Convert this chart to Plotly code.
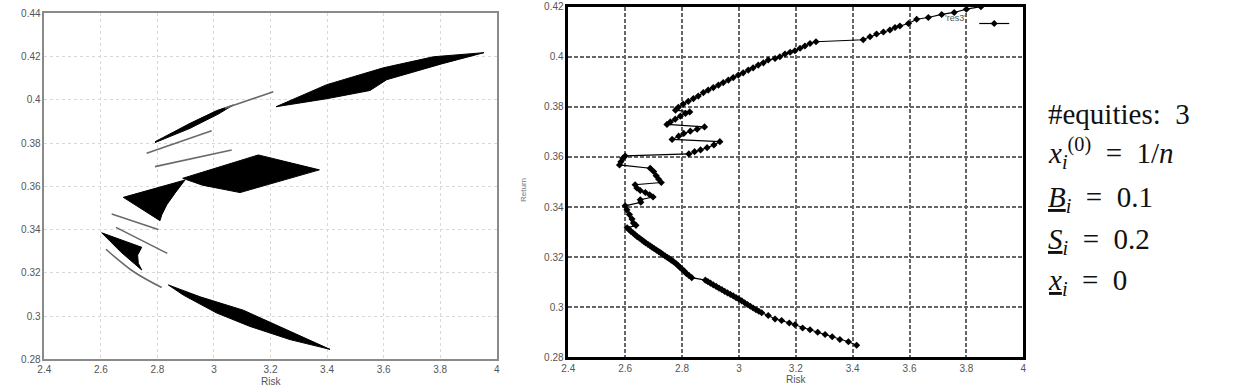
import plotly.graph_objects as go

W, H = 1248, 389

# ---------------- Left chart: regions (filled) and thin curves ----------------
reg_top_right_x = [3.2195, 3.399, 3.599, 3.776, 3.955, 3.805, 3.611, 3.552, 3.399, 3.2195]
reg_top_right_y = [0.3968, 0.4070, 0.4148, 0.4199, 0.4218, 0.4166, 0.4093, 0.4043, 0.4005, 0.3968]

reg_bottom_x = [2.8386, 2.951, 3.104, 3.269, 3.4104, 3.269, 3.1275, 3.0097, 2.8916, 2.8386]
reg_bottom_y = [0.3144, 0.3089, 0.3027, 0.2930, 0.2846, 0.2891, 0.2952, 0.3014, 0.3097, 0.3144]

reg_diamond_x = [2.8894, 3.157, 3.3729, 3.0922, 2.96, 2.8894]
reg_diamond_y = [0.3637, 0.3745, 0.3676, 0.3571, 0.3605, 0.3637]

reg_triangle_x = [2.6794, 2.8976, 2.8622, 2.8329, 2.8152, 2.8092, 2.6794]
reg_triangle_y = [0.3549, 0.3629, 0.3568, 0.3514, 0.3467, 0.3441, 0.3549]

reg_small_x = [2.603, 2.7445, 2.730, 2.7325, 2.7445, 2.67, 2.603]
reg_small_y = [0.3385, 0.3318, 0.3282, 0.3244, 0.3213, 0.3297, 0.3385]

reg_sliver_x = [2.7915, 2.9153, 3.0097, 3.0684, 3.0154, 2.9153, 2.7915]
reg_sliver_y = [0.3806, 0.3891, 0.3950, 0.3976, 0.3934, 0.3868, 0.3802]

curve_a_x = [3.039, 3.21]
curve_a_y = [0.3961, 0.4037]
curve_b_x = [2.762, 2.992]
curve_b_y = [0.3753, 0.3857]
curve_c_x = [2.7915, 3.0627]
curve_c_y = [0.3691, 0.3768]
curve_d_x = [2.6384, 2.8032]
curve_d_y = [0.3472, 0.3400]
curve_e_x = [2.6536, 2.835]
curve_e_y = [0.3410, 0.3290]
curve_f_x = [2.618, 2.7149, 2.8151]
curve_f_y = [0.3309, 0.3206, 0.3132]

# ---------------- Right chart: 'res3' series ----------------
res3_risk = [
    3.851, 3.800, 3.757, 3.713, 3.666, 3.625, 3.596, 3.566, 3.549, 3.531, 3.508, 3.484, 3.461, 3.437,
    3.271, 3.250, 3.232, 3.215, 3.197, 3.180, 3.162, 3.144, 3.127, 3.103, 3.086, 3.068, 3.050, 3.033,
    3.015, 2.998, 2.980, 2.963, 2.945, 2.928, 2.910, 2.892, 2.875, 2.857, 2.840, 2.822, 2.804, 2.787, 2.777,
    2.827, 2.812, 2.794, 2.776, 2.759, 2.747,
    2.879, 2.853, 2.829, 2.806, 2.788, 2.765,
    2.933, 2.912, 2.888, 2.865, 2.844, 2.824,
    2.600, 2.592, 2.585, 2.580,
    2.688, 2.700, 2.709, 2.718, 2.727,
    2.635, 2.641, 2.653, 2.671, 2.686, 2.698,
    2.653, 2.655, 2.600,
    2.606, 2.615, 2.624, 2.629, 2.638,
    2.607, 2.614, 2.620, 2.628, 2.635, 2.642, 2.650, 2.658, 2.665, 2.672, 2.680, 2.688, 2.695, 2.702,
    2.710, 2.718, 2.725, 2.732, 2.740, 2.748, 2.755, 2.762, 2.770, 2.778, 2.785, 2.792, 2.800, 2.808,
    2.815, 2.824, 2.834,
    2.882, 2.891, 2.900, 2.910, 2.920, 2.930, 2.940, 2.950, 2.960, 2.970, 2.980, 2.990, 3.000, 3.010,
    3.020, 3.030, 3.040, 3.050, 3.060, 3.070, 3.080, 3.103, 3.127, 3.150,
    3.177, 3.197, 3.224, 3.250, 3.277, 3.303, 3.328, 3.355, 3.385, 3.414,
]
res3_return = [
    0.4200, 0.4190, 0.4177, 0.4169, 0.4157, 0.4150, 0.4133, 0.4123, 0.4117, 0.4107, 0.4099, 0.4091, 0.4080, 0.4068,
    0.4060, 0.4053, 0.4043, 0.4034, 0.4024, 0.4018, 0.4011, 0.4000, 0.3993, 0.3987, 0.3976, 0.3967, 0.3956, 0.3947,
    0.3936, 0.3927, 0.3917, 0.3907, 0.3897, 0.3887, 0.3877, 0.3867, 0.3857, 0.3843, 0.3833, 0.3822, 0.3811, 0.3798, 0.3787,
    0.3780, 0.3774, 0.3763, 0.3751, 0.3740, 0.3730,
    0.3720, 0.3711, 0.3703, 0.3694, 0.3683, 0.3670,
    0.3661, 0.3648, 0.3637, 0.3628, 0.3621, 0.3612,
    0.3604, 0.3595, 0.3581, 0.3568,
    0.3555, 0.3542, 0.3525, 0.3511, 0.3498,
    0.3489, 0.3476, 0.3466, 0.3458, 0.3449, 0.3440,
    0.3429, 0.3419, 0.3405,
    0.3389, 0.3370, 0.3352, 0.3336, 0.3327,
    0.3317, 0.3310, 0.3303, 0.3296, 0.3289, 0.3282, 0.3276, 0.3269, 0.3263, 0.3257, 0.3251, 0.3245, 0.3239, 0.3234,
    0.3228, 0.3222, 0.3217, 0.3211, 0.3205, 0.3199, 0.3194, 0.3188, 0.3182, 0.3175, 0.3168, 0.3160, 0.3152, 0.3144,
    0.3135, 0.3127, 0.3118,
    0.3108, 0.3102, 0.3096, 0.3089, 0.3083, 0.3076, 0.3070, 0.3063, 0.3057, 0.3051, 0.3045, 0.3038, 0.3032, 0.3025,
    0.3018, 0.3011, 0.3004, 0.2997, 0.2990, 0.2984, 0.2978, 0.2967, 0.2953, 0.2947,
    0.2937, 0.2930, 0.2917, 0.2910, 0.2900, 0.2891, 0.2882, 0.2871, 0.2862, 0.2848,
]

x_ticks = [2.4, 2.6, 2.8, 3.0, 3.2, 3.4, 3.6, 3.8, 4.0]
x_tick_text = ["2.4", "2.6", "2.8", "3", "3.2", "3.4", "3.6", "3.8", "4"]
left_y_ticks = [0.28, 0.30, 0.32, 0.34, 0.36, 0.38, 0.40, 0.42, 0.44]
left_y_text = ["0.28", "0.3", "0.32", "0.34", "0.36", "0.38", "0.4", "0.42", "0.44"]
right_y_ticks = [0.28, 0.30, 0.32, 0.34, 0.36, 0.38, 0.40, 0.42]
right_y_text = ["0.28", "0.3", "0.32", "0.34", "0.36", "0.38", "0.4", "0.42"]

x_label = "Risk"
y_label = "Return"
legend_label = "'res3'"
info_lines = [
    "#equities:  3",
    "<i>x</i><sub><i>i</i></sub><sup>(0)</sup>  =  1/<i>n</i>",
    "<u><i>B</i></u><sub><i>i</i></sub>  =  0.1",
    "<u><i>S</i></u><sub><i>i</i></sub>  =  0.2",
    "<u><i>x</i></u><sub><i>i</i></sub>  =  0",
]
info_y_px = [114, 153, 199, 241, 282]

fig = go.Figure()

regions = [
    (reg_top_right_x, reg_top_right_y),
    (reg_bottom_x, reg_bottom_y),
    (reg_diamond_x, reg_diamond_y),
    (reg_triangle_x, reg_triangle_y),
    (reg_small_x, reg_small_y),
    (reg_sliver_x, reg_sliver_y),
]
for rx, ry in regions:
    fig.add_trace(go.Scatter(x=rx, y=ry, mode="lines", fill="toself", fillcolor="black",
                             line=dict(color="black", width=1), showlegend=False,
                             xaxis="x", yaxis="y", hoverinfo="skip"))

curves = [(curve_a_x, curve_a_y), (curve_b_x, curve_b_y), (curve_c_x, curve_c_y),
          (curve_d_x, curve_d_y), (curve_e_x, curve_e_y), (curve_f_x, curve_f_y)]
for cx, cy in curves:
    fig.add_trace(go.Scatter(x=cx, y=cy, mode="lines", line=dict(color="#6a6a6a", width=1.6, shape="spline"),
                             showlegend=False, xaxis="x", yaxis="y", hoverinfo="skip"))

fig.add_trace(go.Scatter(x=res3_risk, y=res3_return, mode="lines+markers", name=" ",
                         line=dict(color="black", width=1.2),
                         marker=dict(symbol="diamond", size=5.5, color="black"),
                         xaxis="x2", yaxis="y2", showlegend=True))

tick_font = dict(family="Liberation Sans, Arial", size=10, color="#555")
ax_common = dict(range=[2.4, 4.0], tickvals=x_ticks, ticktext=x_tick_text, showline=True, mirror=True,
                 zeroline=False, tickfont=tick_font, ticks="", automargin=False)

fig.update_layout(
    width=W, height=H,
    margin=dict(l=0, r=0, t=0, b=0),
    paper_bgcolor="white", plot_bgcolor="white",
    xaxis=dict(domain=[44.3 / W, 496.7 / W], anchor="y", linecolor="#8a8a8a", linewidth=1.5,
               gridcolor="#d8d8d8", griddash="dot", gridwidth=1, **ax_common),
    yaxis=dict(domain=[1 - 359.3 / H, 1 - 13.3 / H], anchor="x", range=[0.28, 0.44],
               tickvals=left_y_ticks, ticktext=left_y_text, showline=True, mirror=True,
               linecolor="#8a8a8a", linewidth=1.5, gridcolor="#d8d8d8", griddash="dot", zeroline=False,
               tickfont=tick_font, automargin=False),
    xaxis2=dict(domain=[568.3 / W, 1023.3 / W], anchor="y2", linecolor="black", linewidth=2.5,
                gridcolor="#666", griddash="4px,2px", gridwidth=1.5, **ax_common),
    yaxis2=dict(domain=[1 - 357.3 / H, 1 - 6.7 / H], anchor="x2", range=[0.28, 0.42],
                tickvals=right_y_ticks, ticktext=right_y_text, showline=True, mirror=True,
                linecolor="black", linewidth=2.5, gridcolor="#666", griddash="4px,2px", gridwidth=1.5,
                zeroline=False, tickfont=tick_font, automargin=False),
    legend=dict(x=1022 / W, xanchor="right", y=1 - 9 / H, yanchor="top", bgcolor="rgba(0,0,0,0)",
                title=dict(text=legend_label, side="left",
                           font=dict(family="Liberation Sans, Arial", size=9, color="#555")),
                font=dict(size=9), itemwidth=30, tracegroupgap=0),
    showlegend=True,
)

label_font = dict(family="Liberation Sans, Arial", size=10, color="#555")
annotations = [
    dict(text=x_label, x=(44.3 + 496.7) / 2 / W, y=1 - 381 / H, xref="paper", yref="paper",
         xanchor="center", yanchor="middle", showarrow=False, font=label_font),
    dict(text=x_label, x=(568.3 + 1023.3) / 2 / W, y=1 - 379 / H, xref="paper", yref="paper",
         xanchor="center", yanchor="middle", showarrow=False, font=label_font),
    dict(text=y_label, x=524 / W, y=1 - 190 / H, xref="paper", yref="paper", textangle=-90,
         xanchor="center", yanchor="middle", showarrow=False,
         font=dict(family="Liberation Sans, Arial", size=8, color="#777")),
]
for line, py in zip(info_lines, info_y_px):
    annotations.append(dict(text=line, x=1046 / W, y=1 - py / H, xref="paper", yref="paper",
                            xanchor="left", yanchor="middle", showarrow=False, align="left",
                            font=dict(family="Liberation Serif, Times New Roman, serif", size=29,
                                      color="#111")))
fig.update_layout(annotations=annotations)

fig.write_html("out.html")
